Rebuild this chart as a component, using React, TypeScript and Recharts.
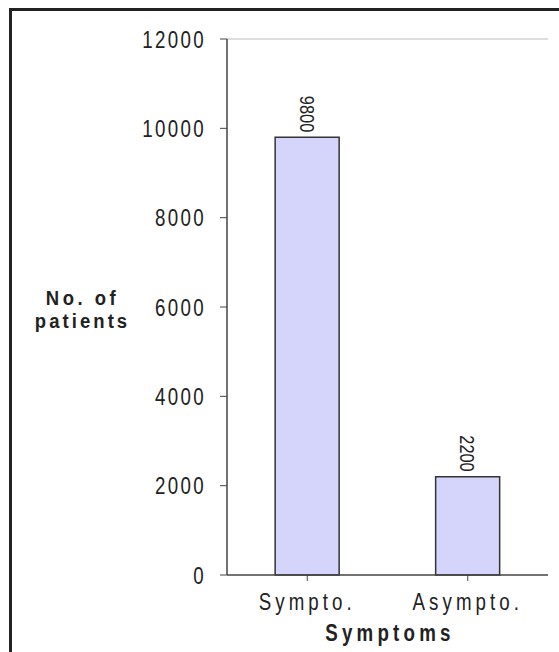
import React from 'react';
import { BarChart, Bar, XAxis, YAxis, LabelList, ReferenceLine } from 'recharts';

const categories = ['Sympto.', 'Asympto.'];
const patients = [9800, 2200];
const yTicks = [0, 2000, 4000, 6000, 8000, 10000, 12000];
const xTitle = 'Symptoms';
const yTitleLines = ['No. of', 'patients'];

const data = categories.map((c, i) => ({ name: c, value: patients[i] }));

const FONT = '"Liberation Sans", Arial, sans-serif';
const SX = 0.78;

const STxt = (p: any) => {
  const { x, y, anchor, size = 24, ls = 0, bold = false, dy = 0, children } = p;
  return (
    <text
      transform={`translate(${x},${y}) scale(${SX},1)`}
      x={0}
      y={0}
      dy={dy}
      textAnchor={anchor}
      fill="#222"
      fontSize={size}
      fontWeight={bold ? 'bold' : 'normal'}
      fontFamily={FONT}
      letterSpacing={ls}
    >
      {children}
    </text>
  );
};

const YTick = (props: any) => {
  const { x, y, payload } = props;
  return (
    <STxt x={x} y={y} anchor="end" ls={3} dy="0.36em">
      {payload.value}
    </STxt>
  );
};

const XTick = (props: any) => {
  const { x, y, payload } = props;
  return (
    <STxt x={x} y={y} anchor="middle" ls={5.2} dy="0.71em">
      {payload.value}
    </STxt>
  );
};

const ValueLabel = (props: any) => {
  const { x, y, width, value } = props;
  const cx = x + width / 2;
  const ty = y - 5;
  return (
    <text
      transform={`translate(${cx},${ty}) rotate(90) scale(${SX},1)`}
      x={0}
      y={0}
      textAnchor="end"
      dy="0.36em"
      fill="#222"
      fontSize={21}
      fontFamily={FONT}
    >
      {value}
    </text>
  );
};

const YTitle = () => (
  <text
    transform="translate(82.5,304.5) scale(0.88,1)"
    textAnchor="middle"
    fill="#222"
    fontSize={21}
    fontWeight="bold"
    fontFamily={FONT}
  >
    <tspan x={0} y={0} letterSpacing={4}>{yTitleLines[0]}</tspan>
    <tspan x={0} y={23.6} letterSpacing={3.5}>{yTitleLines[1]}</tspan>
  </text>
);

const XTitle = (props: any) => {
  const vb = props.viewBox || {};
  return (
    <STxt x={vb.x + vb.width / 2 + 2.5} y={641} anchor="middle" ls={5.4} bold>
      {xTitle}
    </STxt>
  );
};

export default function App() {
  return (
    <div style={{ position: 'fixed', left: 0, top: 0, width: 559, height: 652, overflow: 'hidden', background: '#fff' }}>
      <div style={{ position: 'absolute', left: 9, top: 8, width: 700, height: 800, border: '3px solid #222', boxSizing: 'border-box' }} />
      <div style={{ position: 'absolute', left: 0, top: 0 }}>
        <BarChart width={559} height={652} data={data} margin={{ top: 39, right: 11, left: 0, bottom: 0 }} barCategoryGap="30%">
          <XAxis
            dataKey="name"
            height={77}
            axisLine={{ stroke: '#444', strokeWidth: 1.5 }}
            tickLine={{ stroke: '#444' }}
            tickSize={6}
            tickMargin={12}
            tick={<XTick />}
            label={{ content: XTitle } as any}
          />
          <YAxis
            width={227}
            domain={[0, 12000]}
            ticks={yTicks}
            interval={0}
            axisLine={{ stroke: '#444', strokeWidth: 1.5 }}
            tickLine={{ stroke: '#444' }}
            tickSize={7}
            tickMargin={14}
            tick={<YTick />}
            label={{ content: YTitle } as any}
          />
          <YAxis yAxisId="r" orientation="right" width={0} tick={false} axisLine={{ stroke: '#bbb' }} tickLine={false} domain={[0, 12000]} />
          <ReferenceLine y={12000} stroke="#bbb" />
          <Bar dataKey="value" fill="#d5d5fb" stroke="#333" strokeWidth={1.5} isAnimationActive={false}>
            <LabelList dataKey="value" content={ValueLabel} />
          </Bar>
        </BarChart>
      </div>
    </div>
  );
}
